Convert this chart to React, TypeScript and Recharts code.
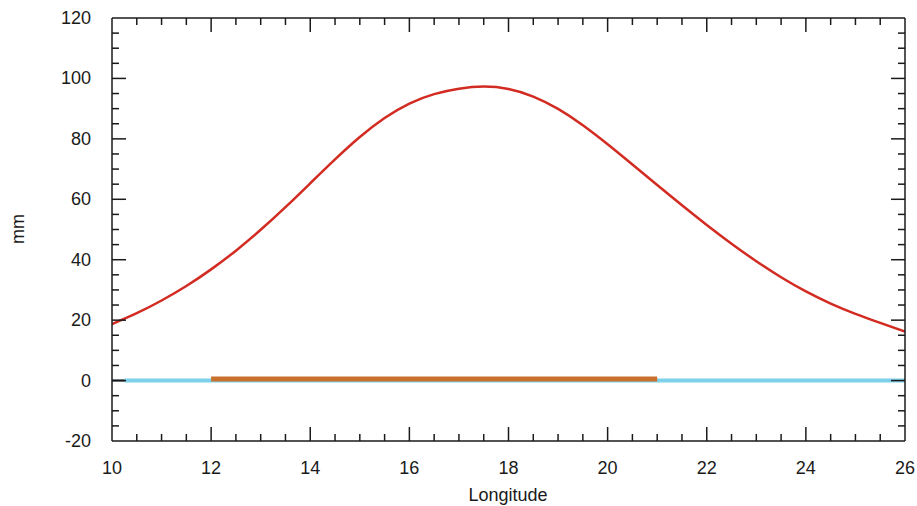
import { LineChart, Line, XAxis, YAxis } from 'recharts';

const longitudes = [10, 10.5, 11, 11.5, 12, 12.5, 13, 13.5, 14, 14.5, 15, 15.5, 16, 16.5, 17, 17.5, 18, 18.5, 19, 19.5, 20, 20.5, 21, 21.5, 22, 22.5, 23, 23.5, 24, 24.5, 25, 25.5, 26];
const uplift = [18.7, 22.3, 26.5, 31.3, 36.8, 43.0, 49.9, 57.4, 65.3, 73.2, 80.6, 86.9, 91.7, 94.8, 96.6, 97.3, 96.5, 94.0, 89.9, 84.5, 78.2, 71.5, 64.7, 58.0, 51.5, 45.3, 39.5, 34.2, 29.5, 25.5, 22.1, 19.1, 16.2];

const baseX = [10, 26];
const baseY = [0, 0];
const zeroX = [10.25, 26];
const zeroY = [0, 0];
const loadX = [12, 21];
const loadY = [0.5, 0.5];

const xTicks = [10, 10.5, 11, 11.5, 12, 12.5, 13, 13.5, 14, 14.5, 15, 15.5, 16, 16.5, 17, 17.5, 18, 18.5, 19, 19.5, 20, 20.5, 21, 21.5, 22, 22.5, 23, 23.5, 24, 24.5, 25, 25.5, 26];
const yTicks = [-20, -15, -10, -5, 0, 5, 10, 15, 20, 25, 30, 35, 40, 45, 50, 55, 60, 65, 70, 75, 80, 85, 90, 95, 100, 105, 110, 115, 120];

const zip = (xs: number[], ys: number[]) => xs.map((x, i) => ({ x, y: ys[i] }));

const curveData = zip(longitudes, uplift);
const baseData = zip(baseX, baseY);
const zeroData = zip(zeroX, zeroY);
const loadData = zip(loadX, loadY);

const FONT = '"Liberation Sans", Arial, sans-serif';
const INK = '#1a1a1a';
const FS = 18;

const isMajorX = (v: number) => v % 2 === 0;
const isMajorY = (v: number) => v % 20 === 0;

const BottomTick = (props: any) => {
  const { x, y, payload } = props;
  const v = payload.value;
  const major = isMajorX(v);
  const edge = v === 10 || v === 26;
  return (
    <g>
      {!edge && <line x1={x} y1={y} x2={x} y2={y - (major ? 14 : 7)} stroke={INK} strokeWidth={1.5} />}
      {major && (
        <text x={x} y={y + 33} textAnchor="middle" fontSize={FS} fontFamily={FONT} fill={INK}>{v}</text>
      )}
    </g>
  );
};

const TopTick = (props: any) => {
  const { x, y, payload } = props;
  const v = payload.value;
  if (v === 10 || v === 26) return <g />;
  return <line x1={x} y1={y} x2={x} y2={y + (isMajorX(v) ? 14 : 7)} stroke={INK} strokeWidth={1.5} />;
};

const LeftTick = (props: any) => {
  const { x, y, payload } = props;
  const v = payload.value;
  const major = isMajorY(v);
  const edge = v === -20 || v === 120;
  return (
    <g>
      {!edge && <line x1={x} y1={y} x2={x + (major ? 14 : 7)} y2={y} stroke={INK} strokeWidth={1.5} />}
      {major && (
        <text x={x - 21} y={y + 6} textAnchor="end" fontSize={FS} fontFamily={FONT} fill={INK}>{v}</text>
      )}
    </g>
  );
};

const RightTick = (props: any) => {
  const { x, y, payload } = props;
  const v = payload.value;
  if (v === -20 || v === 120) return <g />;
  return <line x1={x} y1={y} x2={x - (isMajorY(v) ? 14 : 7)} y2={y} stroke={INK} strokeWidth={1.5} />;
};

const axisLine = { stroke: INK, strokeWidth: 1.5 };

export default function App() {
  return (
    <div style={{ position: 'absolute', left: 0, top: 0, background: '#fff' }}>
      <LineChart width={917} height={506} margin={{ top: 17, right: 11, bottom: 0, left: 0 }}>
        <XAxis dataKey="x" type="number" domain={[10, 26]} ticks={xTicks} interval={0} allowDataOverflow
          height={65} tickSize={0} tickMargin={0} tickLine={false} axisLine={axisLine} tick={<BottomTick />} />
        <XAxis xAxisId="top" orientation="top" dataKey="x" type="number" domain={[10, 26]} ticks={xTicks} interval={0} allowDataOverflow
          height={1} tickSize={0} tickMargin={0} tickLine={false} axisLine={axisLine} tick={<TopTick />} />
        <YAxis type="number" domain={[-20, 120]} ticks={yTicks} interval={0} allowDataOverflow
          width={112} tickSize={0} tickMargin={0} tickLine={false} axisLine={axisLine} tick={<LeftTick />} />
        <YAxis yAxisId="right" orientation="right" type="number" domain={[-20, 120]} ticks={yTicks} interval={0} allowDataOverflow
          width={1} tickSize={0} tickMargin={0} tickLine={false} axisLine={axisLine} tick={<RightTick />} />
        <Line xAxisId="top" yAxisId="right" data={baseData} dataKey="y" stroke="none" dot={false} isAnimationActive={false} />
        <Line data={baseData} dataKey="y" stroke="#0d2230" strokeWidth={2} dot={false} isAnimationActive={false} />
        <Line data={zeroData} dataKey="y" stroke="#7fd0ea" strokeWidth={4} dot={false} isAnimationActive={false} />
        <Line data={loadData} dataKey="y" stroke="#c8702c" strokeWidth={5} dot={false} isAnimationActive={false} />
        <Line data={curveData} dataKey="y" type="natural" stroke="#d22b22" strokeWidth={2.5} dot={false} isAnimationActive={false} />
        <text x={18} y={229} transform="rotate(-90 18 229)" textAnchor="middle" dominantBaseline="central" fontSize={FS} fontFamily={FONT} fill={INK}>mm</text>
        <text x={508} y={501} textAnchor="middle" fontSize={FS} fontFamily={FONT} fill={INK}>Longitude</text>
      </LineChart>
    </div>
  );
}
